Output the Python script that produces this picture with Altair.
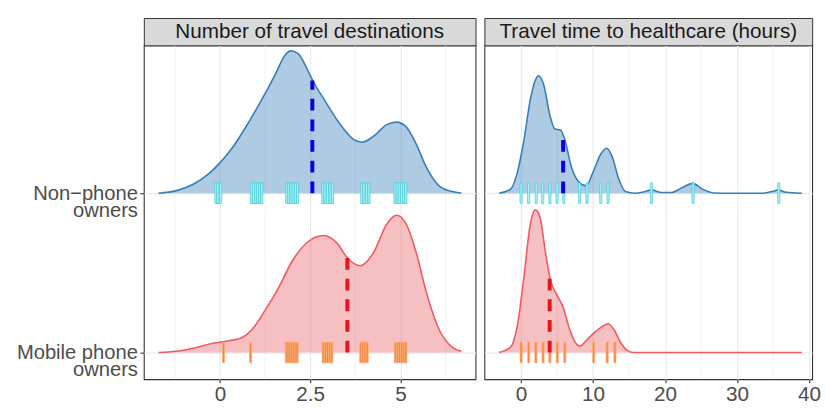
import json
import altair as alt
import pandas as pd

FONT = "Liberation Sans"

# ---------------- data ----------------
PANEL_TITLES = ["Number of travel destinations", "Travel time to healthcare (hours)"]
NON = "Non\u2212phone owners"
MOB = "Mobile phone owners"
LABEL_LINES = {NON: ["Non\u2212phone", "owners"], MOB: ["Mobile phone", "owners"]}
ROW = {NON: 2, MOB: 1}
K = 1 / 166.4  # density units -> row units

# Panel 1: number of travel destinations (density ridge heights)
DEST_NON_X = [-1.70, -1.20, -0.74, -0.29, 0.00, 0.35, 0.80, 1.25, 1.53, 1.80, 1.96, 2.16, 2.44,
              2.57, 2.89, 3.35, 3.71, 3.94, 4.25, 4.62, 4.89, 5.16, 5.44, 5.71, 6.07, 6.43, 6.69]
DEST_NON_H = [0, 2.7, 9.3, 21, 31.7, 47.7, 74.3, 104, 124, 144, 148.7, 146, 127.7,
              117.7, 97.7, 71, 56, 53.3, 59.3, 71.7, 74.3, 69.3, 51, 27.7, 7.7, 1.7, 0]
DEST_MOB_X = [-1.70, -1.20, -0.65, -0.20, 0.26, 0.62, 0.89, 1.25, 1.62, 1.98, 2.44, 2.87,
              3.25, 3.53, 3.89, 4.25, 4.62, 4.89, 5.16, 5.44, 5.71, 6.07, 6.43, 6.69]
DEST_MOB_H = [0, 1.3, 5.3, 9.7, 12.3, 15.7, 24, 44, 67.3, 94, 115.7, 122.3,
              114, 99, 90.7, 104, 134, 143.3, 134, 104, 64, 24, 5.7, 1.3]
DEST_NON_PTS = [-0.11, -0.06, 0.02, 0.87, 0.93, 0.99, 1.04, 1.10, 1.16,
                1.85, 1.91, 1.97, 2.03, 2.09, 2.15, 2.85, 2.91, 2.98, 3.05, 3.12,
                3.93, 3.99, 4.06, 4.13, 4.85, 4.91, 4.97, 5.03, 5.09, 5.15]
DEST_MOB_PTS = [0.10, 0.85, 1.84, 1.89, 1.94, 1.99, 2.04, 2.09, 2.14,
                2.86, 2.92, 2.98, 3.04, 3.10, 3.90, 3.96, 4.02, 4.08,
                4.86, 4.92, 4.98, 5.04, 5.10, 5.15]
DEST_MEAN = {NON: (2.56, 117.7), MOB: (3.53, 99)}

# Panel 2: travel time to healthcare (hours)
TIME_NON_X = [-3.05, -1.45, -0.54, 0.37, 1.28, 1.96, 2.42, 3.10, 4.02, 4.70, 5.47, 6.07, 6.98,
              8.12, 9.03, 9.94, 11.08, 11.9, 12.67, 13.59, 14.5, 15.86, 16.8, 18.14, 19.5,
              20.9, 22.25, 23.84, 25.2, 26.8, 29.1, 33.6, 34.8, 35.78, 36.8, 39.0]
TIME_NON_H = [0, 4.3, 21, 54.3, 97.7, 117.7, 122.7, 114.3, 81, 67, 66, 56, 27.7,
              11, 7.7, 21, 41, 47, 37.7, 14.3, 1.7, 0, 1, 3.3, 0.7,
              0.7, 5.3, 10.3, 4.3, 0.3, 0, 0, 1.7, 3.3, 1, 0]
TIME_MOB_X = [-3.05, -1.45, -0.54, 0.37, 1.28, 1.96, 2.65, 3.33, 4.02, 4.93, 5.84, 6.75,
              7.66, 8.2, 9.03, 10.17, 11.3, 12.08, 12.9, 13.8, 14.73, 15.64, 39.0]
TIME_MOB_H = [0, 5.7, 27.3, 77.3, 134, 149, 140.7, 107.3, 77.3, 60.7, 47.3, 24,
              9, 6.7, 12.3, 20.7, 27.3, 30, 24, 10.7, 2.3, 0, 0]
TIME_NON_PTS = [0.0, 1.05, 2.1, 3.0, 4.0, 5.0, 5.93, 8.12, 9.16, 11.07, 12.08, 18.1, 23.9, 35.8]
TIME_MOB_PTS = [0.0, 1.05, 2.05, 3.05, 4.0, 5.03, 6.07, 10.08, 11.95, 13.04]
TIME_MEAN = {NON: (5.84, 57), MOB: (3.97, 77.3)}

DEST_TICKS = [0, 2.5, 5]
DEST_MINOR = [-1.25, 1.25, 3.75, 6.25]
TIME_TICKS = [0, 10, 20, 30, 40]
TIME_MINOR = [5, 15, 25, 35]

# ---------------- styles ----------------
STYLE = {
    NON: dict(fill="#377EB8", line="#377EB8", tick_fill="#a6f3f7", tick_stroke="#45c8d6", mean="#0a00e0"),
    MOB: dict(fill="#e85f64", line="#f05a60", tick_fill="#f7843e", tick_stroke="#ffb47c", mean="#e8141c"),
}
GRID = "#ebebeb"
PANEL_H = 339
STRIP_H = 28


def curve_df(xs, hs, g):
    df = pd.DataFrame({"x": xs, "h": hs})
    df["base"] = ROW[g]
    df["top"] = df["base"] + df["h"] * K
    return df


def panel(curves, pts, means, domain, ticks, minor, width, left):
    xscale = alt.Scale(domain=domain, nice=False, zero=False)
    xaxis = alt.Axis(values=ticks, labelExpr="datum.value + ''", grid=True, gridColor=GRID,
                     gridWidth=1.3, title=None, domain=False, tickSize=3.5, labelPadding=1,
                     labelFontSize=21)
    yscale = alt.Scale(domain=[0.832, 2.927], nice=False, zero=False)
    if left:
        expr = "datum.value == 2 ? %s : %s" % (json.dumps(LABEL_LINES[NON], ensure_ascii=False),
                                               json.dumps(LABEL_LINES[MOB], ensure_ascii=False))
        yaxis = alt.Axis(values=[1, 2], labelExpr=expr, grid=True, gridColor=GRID, gridWidth=1.3,
                         title=None, domain=False, tickSize=4, labelPadding=2.5,
                         labelAlign="right", labelBaseline="middle", labelLineHeight=17.5)
    else:
        yaxis = alt.Axis(values=[1, 2], labels=False, ticks=False, grid=True, gridColor=GRID,
                         gridWidth=1.3, title=None, domain=False, minExtent=0, maxExtent=0)

    def X(f):
        return alt.X(f, type="quantitative", scale=xscale, axis=xaxis)

    def Y(f):
        return alt.Y(f, type="quantitative", scale=yscale, axis=yaxis)

    layers = [
        alt.Chart(pd.DataFrame({"v": minor})).mark_rule(color=GRID, strokeWidth=0.7)
        .encode(x=X("v"))
    ]
    for g in (NON, MOB):
        st = STYLE[g]
        layers.append(alt.Chart(curves[g]).mark_area(interpolate="monotone", fill=st["fill"], fillOpacity=0.4)
                      .encode(x=X("x"), y=Y("top"), y2="base:Q"))
    for g in (NON, MOB):
        st = STYLE[g]
        layers.append(alt.Chart(curves[g]).mark_line(interpolate="monotone", color=st["line"], strokeWidth=1.6)
                      .encode(x=X("x"), y=Y("top")))
    for g in (NON, MOB):
        st = STYLE[g]
        pdf = pd.DataFrame({"x": pts[g], "base": ROW[g]})
        layers.append(alt.Chart(pdf).mark_tick(orient="vertical", size=21, thickness=2.2,
                                               fill=st["tick_fill"], stroke=st["tick_stroke"],
                                               strokeWidth=0.7, opacity=1)
                      .encode(x=X("x"), y=Y("base")))
    for g in (NON, MOB):
        st = STYLE[g]
        m, h = means[g]
        mdf = pd.DataFrame({"x": [m], "base": [ROW[g]], "top": [ROW[g] + h * K]})
        layers.append(alt.Chart(mdf).mark_rule(color=st["mean"], strokeWidth=4, strokeDash=[12, 9])
                      .encode(x=X("x"), y=Y("base"), y2="top:Q"))
    return alt.layer(*layers).properties(width=width, height=PANEL_H)


def strip(title, width):
    return (alt.Chart(pd.DataFrame({"t": [title]}))
            .mark_text(fontSize=21, font=FONT, color="#1a1a1a")
            .encode(text="t:N")
            .properties(width=width, height=STRIP_H,
                        view=alt.ViewBackground(fill="#d9d9d9", stroke="#333333", strokeWidth=1)))


left_panel = panel({NON: curve_df(DEST_NON_X, DEST_NON_H, NON), MOB: curve_df(DEST_MOB_X, DEST_MOB_H, MOB)},
                   {NON: DEST_NON_PTS, MOB: DEST_MOB_PTS}, DEST_MEAN,
                   [-2.107, 7.08], DEST_TICKS, DEST_MINOR, 337, True)
right_panel = panel({NON: curve_df(TIME_NON_X, TIME_NON_H, NON), MOB: curve_df(TIME_MOB_X, TIME_MOB_H, MOB)},
                    {NON: TIME_NON_PTS, MOB: TIME_MOB_PTS}, TIME_MEAN,
                    [-5.1, 40.44], TIME_TICKS, TIME_MINOR, 333, False)

left_col = alt.vconcat(strip(PANEL_TITLES[0], 337), left_panel, spacing=0, bounds="flush")
right_col = alt.vconcat(strip(PANEL_TITLES[1], 333), right_panel, spacing=0, bounds="flush")

chart = (alt.hconcat(left_col, right_col, spacing=7)
         .properties(padding={"left": 7, "top": 6, "right": 0, "bottom": -4}, background="white")
         .configure_view(stroke="#333333", strokeWidth=1.1, fill="white")
         .configure_axis(labelFont=FONT, labelFontSize=20.5, labelColor="#4d4d4d",
                         tickColor="#333333", tickWidth=1.1))

chart.save("out.html", embed_options={"renderer": "svg", "actions": False})
